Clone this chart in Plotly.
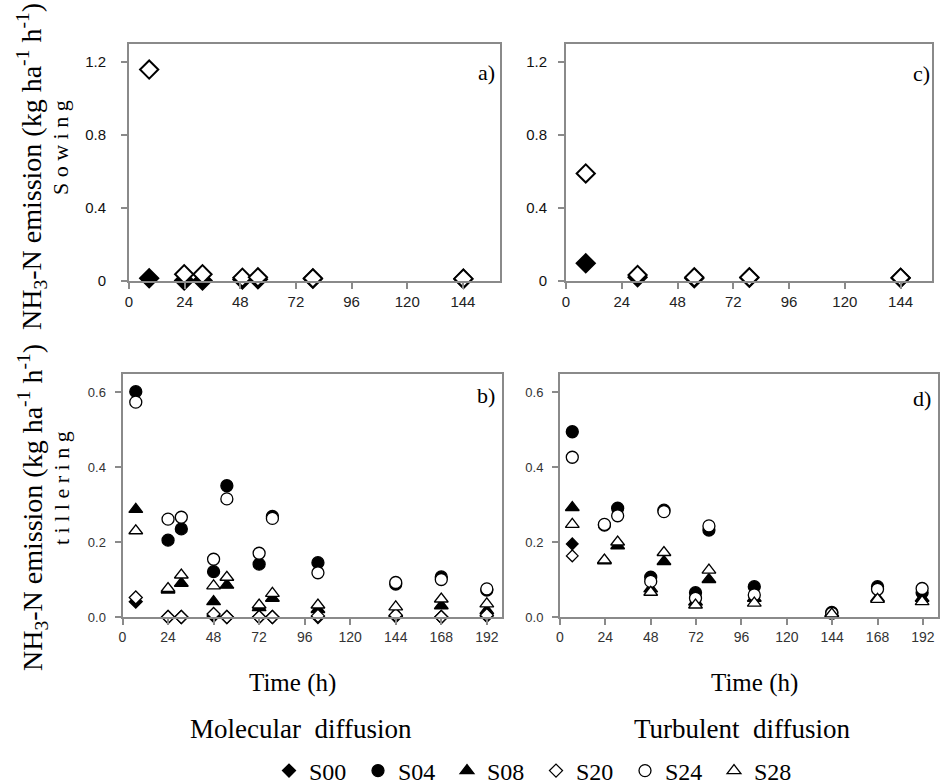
import plotly.graph_objects as go

W, H = 941, 784

# ---------------- data ----------------
# Panel a: molecular diffusion, sowing
t_a = [8.7, 23.8, 31.7, 48.9, 55.6, 79.3, 144.2]
S00_a = [0.015, 0.003, 0.003, 0.008, 0.010, 0.012, 0.011]
S20_a = [1.16, 0.037, 0.037, 0.018, 0.020, 0.015, 0.013]

# Panel c: turbulent diffusion, sowing
t_c = [8.5, 30.8, 55.2, 78.9, 144.0]
S00_c = [0.097, 0.020, 0.015, 0.018, 0.016]
S20_c = [0.59, 0.033, 0.020, 0.020, 0.018]

# Panel b: molecular diffusion, tillering
t_b = [7, 24, 31, 48, 55, 72, 79, 103, 144, 168, 192]
S00_b = [0.041, 0.0, 0.0, 0.003, 0.0, 0.0, 0.0, 0.0, 0.002, 0.0, 0.003]
S04_b = [0.601, 0.205, 0.235, 0.121, 0.350, 0.141, 0.268, 0.145, 0.088, 0.107, 0.072]
S08_b = [0.287, 0.072, 0.090, 0.041, 0.085, 0.025, 0.050, 0.020, 0.010, 0.030, 0.017]
S20_b = [0.052, 0.0, 0.0, 0.008, 0.0, 0.0, 0.0, 0.003, 0.005, 0.0, 0.005]
S24_b = [0.573, 0.261, 0.266, 0.154, 0.315, 0.170, 0.263, 0.118, 0.092, 0.100, 0.075]
S28_b = [0.230, 0.076, 0.112, 0.083, 0.106, 0.032, 0.063, 0.032, 0.027, 0.048, 0.035]

# Panel d: turbulent diffusion, tillering
t_d = [6.5, 23.5, 30.5, 48, 55, 71.7, 78.8, 102.8, 143.8, 168, 191.6]
S04_d = [0.494, 0.245, 0.290, 0.106, 0.285, 0.065, 0.232, 0.081, 0.012, 0.081, 0.065]
S08_d = [0.292, 0.150, 0.190, 0.075, 0.148, 0.040, 0.100, 0.050, 0.010, 0.050, 0.050]
S24_d = [0.426, 0.247, 0.270, 0.095, 0.281, 0.050, 0.243, 0.059, 0.010, 0.074, 0.076]
S28_d = [0.247, 0.152, 0.200, 0.066, 0.172, 0.032, 0.125, 0.037, 0.008, 0.047, 0.041]
t_d0 = [6.5]
S00_d = [0.195]
S20_d = [0.163]

series_names = ["S00", "S04", "S08", "S20", "S24", "S28"]
x_ticks_top = [0, 24, 48, 72, 96, 120, 144]
x_ticks_bot = [0, 24, 48, 72, 96, 120, 144, 168, 192]
y_ticks_top = [0, 0.4, 0.8, 1.2]
y_tick_text_top = ["0", "0.4", "0.8", "1.2"]
y_ticks_bot = [0, 0.2, 0.4, 0.6]

# ---------------- styles ----------------
STYLE = {
    "S00": dict(symbol="diamond", color="black"),
    "S04": dict(symbol="circle", color="black"),
    "S08": dict(symbol="triangle-up", color="black"),
    "S20": dict(symbol="diamond", color="white"),
    "S24": dict(symbol="circle", color="white"),
    "S28": dict(symbol="triangle-up", color="white"),
}


def px(x):
    return x / W


def py(y):
    return 1 - y / H


fig = go.Figure()


def add(name, xs, ys, xa, ya, size, lw, show=False):
    st = STYLE[name]
    fig.add_trace(go.Scatter(
        x=xs, y=ys, mode="markers", name=name, legendgroup=name,
        showlegend=show, xaxis=xa, yaxis=ya, cliponaxis=False,
        marker=dict(symbol=st["symbol"], color=st["color"], size=size,
                    line=dict(color="black", width=lw)),
    ))


# panel a
add("S00", t_a, S00_a, "x", "y", 14, 2)
add("S20", t_a, S20_a, "x", "y", 14, 2)
# panel c
add("S00", t_c, S00_c, "x2", "y2", 14, 2)
add("S20", t_c, S20_c, "x2", "y2", 14, 2)
# panel b (also feeds legend)
b_data = {"S00": S00_b, "S04": S04_b, "S08": S08_b, "S20": S20_b, "S24": S24_b, "S28": S28_b}
b_size = {"S00": 10, "S04": 12, "S08": 12, "S20": 10, "S24": 12, "S28": 12}
for n in series_names:
    add(n, t_b, b_data[n], "x3", "y3", b_size[n], 1.3, show=True)
# panel d
add("S00", t_d0, S00_d, "x4", "y4", 9, 1.3)
add("S04", t_d, S04_d, "x4", "y4", 12, 1.3)
add("S08", t_d, S08_d, "x4", "y4", 12, 1.3)
add("S20", t_d0, S20_d, "x4", "y4", 9, 1.3)
add("S24", t_d, S24_d, "x4", "y4", 12, 1.3)
add("S28", t_d, S28_d, "x4", "y4", 12, 1.3)

AX = dict(showline=True, linecolor="#8a8a8a", linewidth=2, mirror=True,
          ticks="outside", tickcolor="#8a8a8a", ticklen=6, tickwidth=1.5,
          showgrid=False, zeroline=False, fixedrange=True)

top_x_font = dict(family="Liberation Sans, Arial", size=15, color="#222")
top_y_font = dict(family="Liberation Sans, Arial", size=15, color="#111")
bot_x_font = dict(family="Liberation Sans, Arial", size=14, color="#333")
bot_y_font = dict(family="Liberation Sans, Arial", size=13, color="#333")

fig.update_layout(
    width=W, height=H, margin=dict(l=0, r=0, t=0, b=0, autoexpand=False),
    paper_bgcolor="white", plot_bgcolor="white",
    font=dict(family="Liberation Sans, Arial", color="black"),
    xaxis=dict(AX, domain=[px(129), px(500)], range=[0, 160], tickvals=x_ticks_top,
               tickfont=top_x_font, anchor="y"),
    yaxis=dict(AX, domain=[py(281), py(44)], range=[0, 1.3], tickvals=y_ticks_top,
               ticktext=y_tick_text_top, tickfont=top_y_font, anchor="x",
               ticklabelstandoff=12),
    xaxis2=dict(AX, domain=[px(566), px(932)], range=[0, 157.5], tickvals=x_ticks_top,
                tickfont=top_x_font, anchor="y2"),
    yaxis2=dict(AX, domain=[py(281), py(44)], range=[0, 1.3], tickvals=y_ticks_top,
                ticktext=y_tick_text_top, tickfont=top_y_font, anchor="x2",
                ticklabelstandoff=8),
    xaxis3=dict(AX, domain=[px(122.5), px(502)], range=[0, 200], tickvals=x_ticks_bot,
                tickfont=bot_x_font, anchor="y3"),
    yaxis3=dict(AX, domain=[py(617), py(374)], range=[0, 0.648], tickvals=y_ticks_bot,
                tickformat=".1f", tickfont=bot_y_font, anchor="x3",
                ticklabelstandoff=6),
    xaxis4=dict(AX, domain=[px(560), px(938)], range=[0, 200], tickvals=x_ticks_bot,
                tickfont=bot_x_font, anchor="y4"),
    yaxis4=dict(AX, domain=[py(617), py(374)], range=[0, 0.648], tickvals=y_ticks_bot,
                tickformat=".1f", tickfont=bot_y_font, anchor="x4",
                ticklabelstandoff=6),
    legend=dict(orientation="h", x=px(269), xanchor="left", y=py(771), yanchor="middle",
                font=dict(family="Liberation Serif, Times New Roman", size=24, color="black"),
                entrywidth=44, entrywidthmode="pixels", bgcolor="rgba(0,0,0,0)",
                tracegroupgap=0),
)

SERIF = "Liberation Serif, Times New Roman"


def note(text, x, y, size, angle=0):
    fig.add_annotation(text=text, x=px(x), y=py(y), xref="paper", yref="paper",
                       xanchor="center", yanchor="middle", showarrow=False,
                       textangle=angle, font=dict(family=SERIF, size=size, color="black"))


note("a)", 486, 72, 22)
note("c)", 921, 73, 22)
note("b)", 486, 396, 22)
note("d)", 922, 398, 22)

ytitle = "NH<sub>3</sub>-N emission (kg ha<sup>-1</sup> h<sup>-1</sup>)"
note(ytitle, 32, 167, 28, -90)
note("S o w i n g", 61, 148, 22, -90)
note(ytitle, 32, 508, 28, -90)
note("t i l l e r i n g", 61, 488, 22, -90)

note("Time (h)", 292, 683, 25)
note("Time (h)", 754, 683, 25)
note("Molecular  diffusion", 301, 729, 27)
note("Turbulent  diffusion", 742, 729, 27)

fig.write_html("out.html")
